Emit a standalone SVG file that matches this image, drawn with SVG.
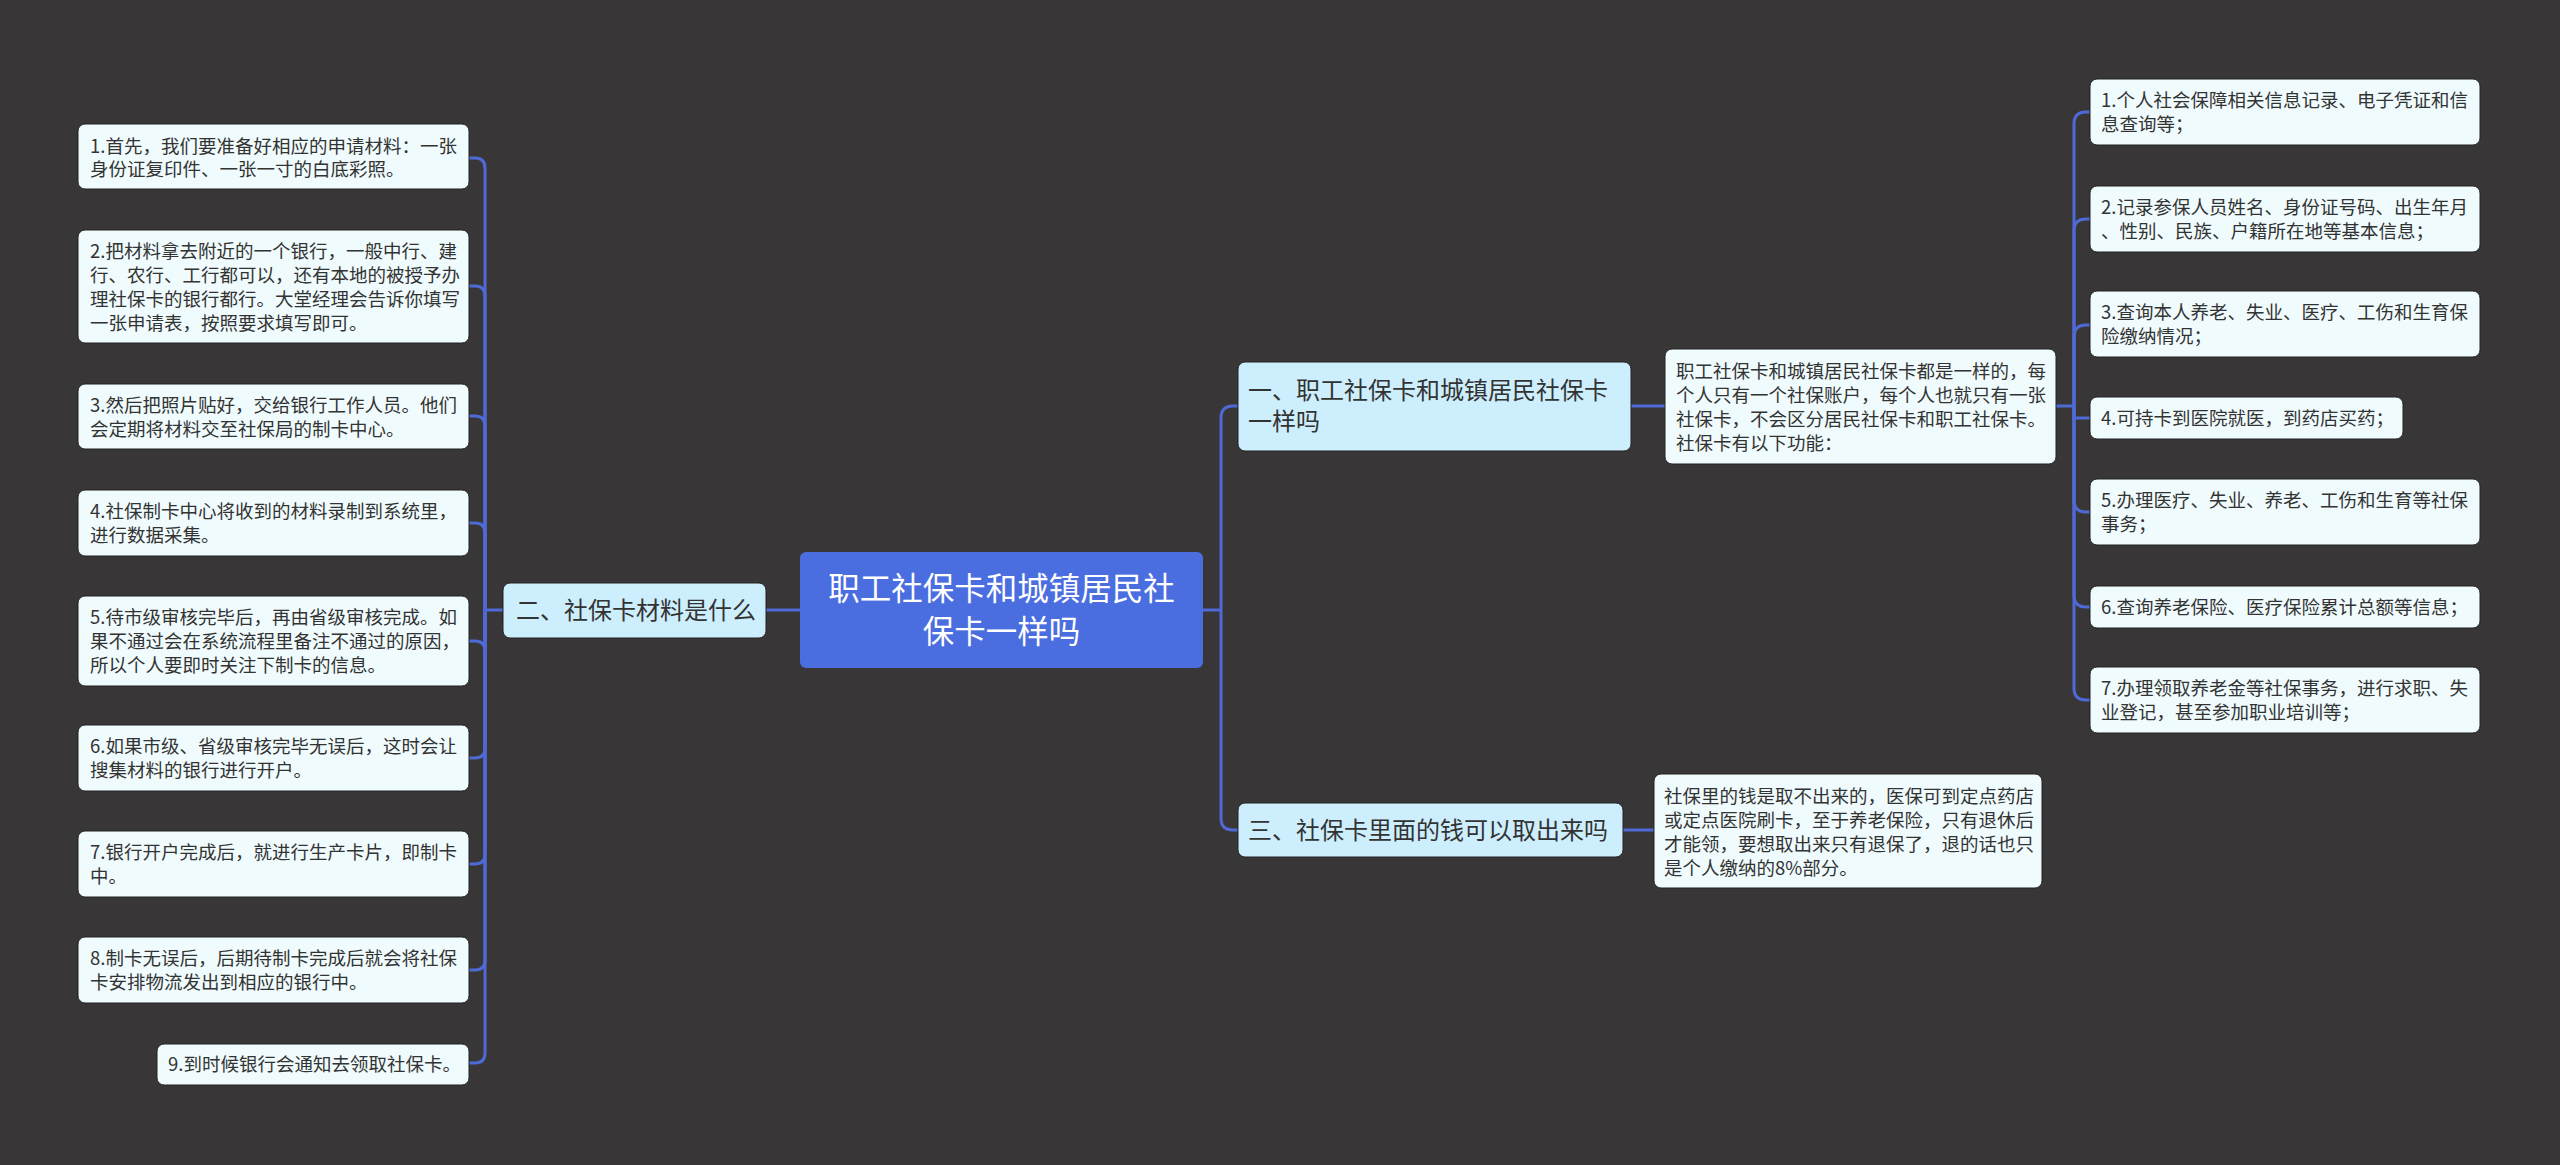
<svg xmlns="http://www.w3.org/2000/svg" width="2560" height="1165" viewBox="0 0 2560 1165">
<style>
.bg{fill:#383637}
.leaf{fill:#f0fbfd;stroke:#222;stroke-width:1}
.l1{fill:#cdeefd;stroke:#222;stroke-width:1}
.root{fill:#4a6ee0}
.t{font-family:"Noto Sans CJK SC","Noto Sans",sans-serif;font-size:18.5px;fill:#333}
.t1{font-family:"Noto Sans CJK SC","Noto Sans",sans-serif;font-size:24px;fill:#333}
.tr{font-family:"Noto Sans CJK SC","Noto Sans",sans-serif;font-size:31.5px;fill:#fff}
.c{fill:none;stroke:#4f6ad6;stroke-width:3}
</style>
<rect class="bg" x="0" y="0" width="2560" height="1165"/>
<g id="connectors">
<path class="c" d="M800 610 H766"/>
<path class="c" d="M503 610 H485"/>
<path class="c" d="M485 610 V168 Q485 158 475 158 H469"/>
<path class="c" d="M485 610 V296 Q485 286 475 286 H469"/>
<path class="c" d="M485 610 V426 Q485 416 475 416 H469"/>
<path class="c" d="M485 610 V533 Q485 523 475 523 H469"/>
<path class="c" d="M485 610 V651 Q485 641 475 641 H469"/>
<path class="c" d="M485 610 V748 Q485 758 475 758 H469"/>
<path class="c" d="M485 610 V854 Q485 864 475 864 H469"/>
<path class="c" d="M485 610 V960 Q485 970 475 970 H469"/>
<path class="c" d="M485 610 V1053 Q485 1063 475 1063 H469"/>
<path class="c" d="M1203 610 H1221"/>
<path class="c" d="M1221 610 V418 Q1221 406 1233 406 H1238"/>
<path class="c" d="M1221 610 V818 Q1221 830 1233 830 H1238"/>
<path class="c" d="M1631 406 H1665"/>
<path class="c" d="M1623 830 H1654"/>
<path class="c" d="M2056 406 H2074"/>
<path class="c" d="M2074 406 V124 Q2074 112 2086 112 H2090"/>
<path class="c" d="M2074 406 V231 Q2074 219 2086 219 H2090"/>
<path class="c" d="M2074 406 V337 Q2074 325 2086 325 H2090"/>
<path class="c" d="M2074 406 V418 Q2074 418 2086 418 H2090"/>
<path class="c" d="M2074 406 V500 Q2074 512 2086 512 H2090"/>
<path class="c" d="M2074 406 V595 Q2074 607 2086 607 H2090"/>
<path class="c" d="M2074 406 V688 Q2074 700 2086 700 H2090"/>
</g>
<g id="root">
<rect class="root" x="800" y="552" width="403" height="116" rx="6"/>
<text class="tr" x="1001.5" y="600" text-anchor="middle">职工社保卡和城镇居民社</text>
<text class="tr" x="1001.5" y="643" text-anchor="middle">保卡一样吗</text>
</g>
<g id="n2">
<rect class="l1" x="503" y="583" width="263" height="55" rx="7"/>
<text class="t1" x="516" y="618.5">二、社保卡材料是什么</text>
</g>
<g id="n2-1">
<rect class="leaf" x="78" y="124" width="391" height="65" rx="7"/>
<text class="t" x="90" y="153">1.首先，我们要准备好相应的申请材料：一张</text>
<text class="t" x="90" y="176">身份证复印件、一张一寸的白底彩照。</text>
</g>
<g id="n2-2">
<rect class="leaf" x="78" y="230" width="391" height="113" rx="7"/>
<text class="t" x="90" y="258">2.把材料拿去附近的一个银行，一般中行、建</text>
<text class="t" x="90" y="282">行、农行、工行都可以，还有本地的被授予办</text>
<text class="t" x="90" y="306">理社保卡的银行都行。大堂经理会告诉你填写</text>
<text class="t" x="90" y="330">一张申请表，按照要求填写即可。</text>
</g>
<g id="n2-3">
<rect class="leaf" x="78" y="384" width="391" height="65" rx="7"/>
<text class="t" x="90" y="412">3.然后把照片贴好，交给银行工作人员。他们</text>
<text class="t" x="90" y="436">会定期将材料交至社保局的制卡中心。</text>
</g>
<g id="n2-4">
<rect class="leaf" x="78" y="490" width="391" height="66" rx="7"/>
<text class="t" x="90" y="518">4.社保制卡中心将收到的材料录制到系统里，</text>
<text class="t" x="90" y="542">进行数据采集。</text>
</g>
<g id="n2-5">
<rect class="leaf" x="78" y="596" width="391" height="90" rx="7"/>
<text class="t" x="90" y="624">5.待市级审核完毕后，再由省级审核完成。如</text>
<text class="t" x="90" y="648">果不通过会在系统流程里备注不通过的原因，</text>
<text class="t" x="90" y="672">所以个人要即时关注下制卡的信息。</text>
</g>
<g id="n2-6">
<rect class="leaf" x="78" y="725" width="391" height="66" rx="7"/>
<text class="t" x="90" y="753">6.如果市级、省级审核完毕无误后，这时会让</text>
<text class="t" x="90" y="777">搜集材料的银行进行开户。</text>
</g>
<g id="n2-7">
<rect class="leaf" x="78" y="831" width="391" height="66" rx="7"/>
<text class="t" x="90" y="859">7.银行开户完成后，就进行生产卡片，即制卡</text>
<text class="t" x="90" y="883">中。</text>
</g>
<g id="n2-8">
<rect class="leaf" x="78" y="937" width="391" height="66" rx="7"/>
<text class="t" x="90" y="965">8.制卡无误后，后期待制卡完成后就会将社保</text>
<text class="t" x="90" y="989">卡安排物流发出到相应的银行中。</text>
</g>
<g id="n2-9">
<rect class="leaf" x="157" y="1044" width="312" height="41" rx="7"/>
<text class="t" x="168" y="1071">9.到时候银行会通知去领取社保卡。</text>
</g>
<g id="n1">
<rect class="l1" x="1238" y="362" width="393" height="89" rx="7"/>
<text class="t1" x="1248" y="398.5">一、职工社保卡和城镇居民社保卡</text>
<text class="t1" x="1248" y="429.5">一样吗</text>
</g>
<g id="n1-d">
<rect class="leaf" x="1665" y="349" width="391" height="115" rx="7"/>
<text class="t" x="1676" y="378">职工社保卡和城镇居民社保卡都是一样的，每</text>
<text class="t" x="1676" y="402">个人只有一个社保账户，每个人也就只有一张</text>
<text class="t" x="1676" y="426">社保卡，不会区分居民社保卡和职工社保卡。</text>
<text class="t" x="1676" y="450">社保卡有以下功能：</text>
</g>
<g id="n1-1">
<rect class="leaf" x="2090" y="79" width="390" height="66" rx="7"/>
<text class="t" x="2101" y="107">1.个人社会保障相关信息记录、电子凭证和信</text>
<text class="t" x="2101" y="131">息查询等；</text>
</g>
<g id="n1-2">
<rect class="leaf" x="2090" y="186" width="390" height="66" rx="7"/>
<text class="t" x="2101" y="214">2.记录参保人员姓名、身份证号码、出生年月</text>
<text class="t" x="2101" y="238">、性别、民族、户籍所在地等基本信息；</text>
</g>
<g id="n1-3">
<rect class="leaf" x="2090" y="291" width="390" height="66" rx="7"/>
<text class="t" x="2101" y="319">3.查询本人养老、失业、医疗、工伤和生育保</text>
<text class="t" x="2101" y="343">险缴纳情况；</text>
</g>
<g id="n1-4">
<rect class="leaf" x="2090" y="397" width="313" height="42" rx="7"/>
<text class="t" x="2101" y="424.5">4.可持卡到医院就医，到药店买药；</text>
</g>
<g id="n1-5">
<rect class="leaf" x="2090" y="479" width="390" height="66" rx="7"/>
<text class="t" x="2101" y="507">5.办理医疗、失业、养老、工伤和生育等社保</text>
<text class="t" x="2101" y="531">事务；</text>
</g>
<g id="n1-6">
<rect class="leaf" x="2090" y="586" width="390" height="42" rx="7"/>
<text class="t" x="2101" y="613.5">6.查询养老保险、医疗保险累计总额等信息；</text>
</g>
<g id="n1-7">
<rect class="leaf" x="2090" y="667" width="390" height="66" rx="7"/>
<text class="t" x="2101" y="695">7.办理领取养老金等社保事务，进行求职、失</text>
<text class="t" x="2101" y="719">业登记，甚至参加职业培训等；</text>
</g>
<g id="n3">
<rect class="l1" x="1238" y="803" width="385" height="54" rx="7"/>
<text class="t1" x="1248" y="838.5">三、社保卡里面的钱可以取出来吗</text>
</g>
<g id="n3-d">
<rect class="leaf" x="1654" y="774" width="388" height="114" rx="7"/>
<text class="t" x="1664" y="803">社保里的钱是取不出来的，医保可到定点药店</text>
<text class="t" x="1664" y="827">或定点医院刷卡，至于养老保险，只有退休后</text>
<text class="t" x="1664" y="851">才能领，要想取出来只有退保了，退的话也只</text>
<text class="t" x="1664" y="875">是个人缴纳的8%部分。</text>
</g>
</svg>
